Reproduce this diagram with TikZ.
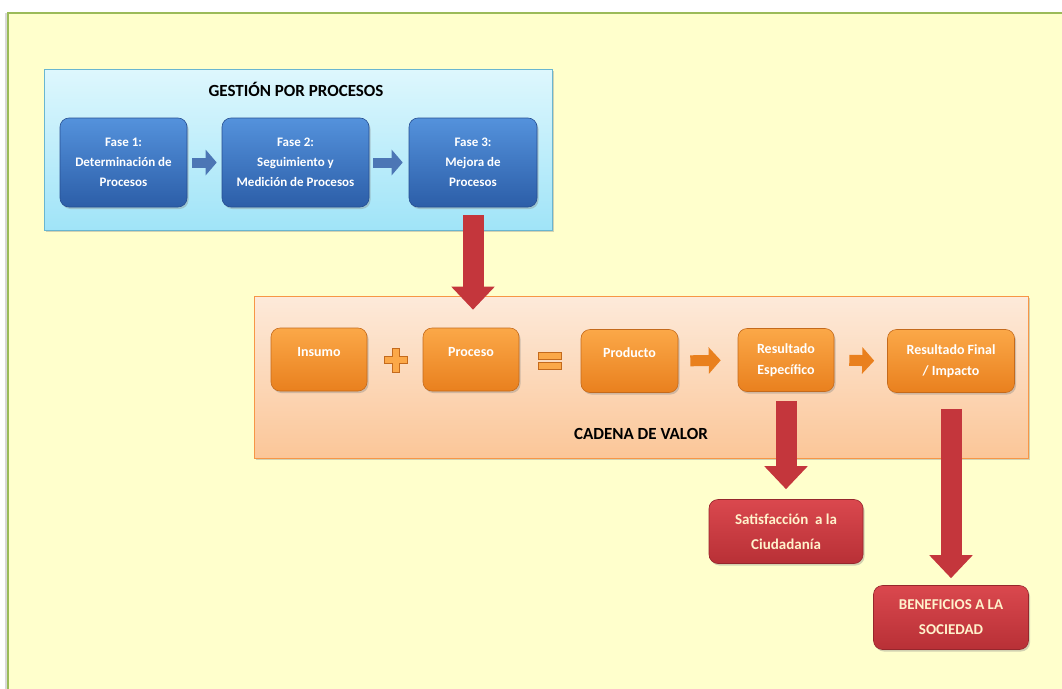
\documentclass[tikz,border=0pt]{standalone}
\usepackage{fontspec}
\setmainfont{Carlito}
\usepackage{tikz}
\usetikzlibrary{arrows.meta,shadows}

\definecolor{frameyellow}{RGB}{255,255,204}
\definecolor{framegreen}{RGB}{155,187,89}
\definecolor{panelbluetop}{RGB}{222,247,253}
\definecolor{panelbluebot}{RGB}{160,228,248}
\definecolor{panelblueline}{RGB}{105,182,208}
\definecolor{panelortop}{RGB}{253,234,218}
\definecolor{panelorbot}{RGB}{251,198,152}
\definecolor{panelorline}{RGB}{247,150,70}
\definecolor{bluetop}{RGB}{84,146,220}
\definecolor{bluebot}{RGB}{44,94,168}
\definecolor{blueline}{RGB}{38,78,145}
\definecolor{ortop}{RGB}{251,168,72}
\definecolor{orbot}{RGB}{233,128,30}
\definecolor{orline}{RGB}{196,106,28}
\definecolor{redtop}{RGB}{218,72,78}
\definecolor{redbot}{RGB}{184,48,54}
\definecolor{redline}{RGB}{150,38,44}
\definecolor{redarrow}{RGB}{196,54,60}
\definecolor{cream}{RGB}{255,242,204}

\begin{document}
\begin{tikzpicture}[x=1pt,y=-1pt,
    shade/.style={drop shadow={opacity=0.35,shadow xshift=1.5pt,shadow yshift=-2pt}},
    panel/.style={draw, line width=0.8pt, shade},
    box/.style={draw, line width=0.6pt, rounded corners=9pt, align=center,
        text=white, shade},
    bluebox/.style={box, top color=bluetop, bottom color=bluebot, draw=blueline,
        minimum height=89pt, font=\fontsize{13}{20}\selectfont\bfseries},
    orbox/.style={box, top color=ortop, bottom color=orbot, draw=orline,
        minimum height=63pt, font=\fontsize{14}{21}\selectfont\bfseries},
    redbox/.style={box, top color=redtop, bottom color=redbot, draw=redline,
        text=cream, minimum height=64pt, font=\fontsize{15}{25}\selectfont\bfseries},
    title/.style={font=\fontsize{17}{20}\selectfont\bfseries},
    bigarrow/.style={draw=redarrow, line width=21pt, -{Triangle[width=42pt,length=23pt]}},
    bluearrow/.style={draw=bluebot!85!white, line width=10pt, -{Triangle[width=25pt,length=11pt]}},
    orarrow/.style={draw=orbot, line width=11pt, -{Triangle[width=26pt,length=12pt]}},
    sign/.style={fill=ortop, draw=orline, line width=0.6pt}
]
    \clip (0,0) rectangle (1062,688);
    \fill[white] (0,0) rectangle (1062,688);
    \filldraw[fill=frameyellow, draw=framegreen, line width=2pt,
        drop shadow={opacity=0.3,shadow xshift=-3pt,shadow yshift=0pt}]
        (8,13) rectangle (1080,700);

    % panels
    \node[panel, top color=panelbluetop, bottom color=panelbluebot, draw=panelblueline,
        minimum width=508pt, minimum height=161pt] (gp) at (298,149.5) {};
    \node[title] (gtitle) at (296,89) {GESTIÓN POR PROCESOS};
    \node[panel, top color=panelortop, bottom color=panelorbot, draw=panelorline,
        minimum width=774pt, minimum height=162pt] (cp) at (641,377) {};
    \node[title] (ctitle) at (641,434) {CADENA DE VALOR};

    % fases
    \node[bluebox, minimum width=127pt] (f1) at (123.5,162.5) {Fase 1:\\Determinación de\\Procesos};
    \node[bluebox, minimum width=147pt] (f2) at (295.5,162.5) {Fase 2:\\Seguimiento y\\Medición de Procesos};
    \node[bluebox, minimum width=128pt] (f3) at (473,162.5) {Fase 3:\\Mejora de\\Procesos};

    % cadena de valor
    \node[orbox, minimum width=96pt, text depth=16pt] (ins) at (319,359.5) {Insumo};
    \node[orbox, minimum width=96pt, text depth=16pt] (pro) at (471,359.5) {Proceso};
    \node[orbox, minimum width=97pt, text depth=16pt] (prod) at (629.5,361) {Producto};
    \node[orbox, minimum width=96pt] (res) at (786,360) {Resultado\\Específico};
    \node[orbox, minimum width=127pt] (fin) at (951,361) {Resultado Final\\/ Impacto};

    % resultados
    \node[redbox, minimum width=154pt] (sat) at (786,531.5) {Satisfacción~ a la\\Ciudadanía};
    \node[redbox, minimum width=155pt] (ben) at (951,617.5) {BENEFICIOS A LA\\SOCIEDAD};

    % signos
    \filldraw[sign] (392,348) -- (399,348) -- (399,356.5) -- (407,356.5) -- (407,363.5)
        -- (399,363.5) -- (399,372) -- (392,372) -- (392,363.5) -- (384,363.5)
        -- (384,356.5) -- (392,356.5) -- cycle;
    \filldraw[sign] (538,352) rectangle (561,359);
    \filldraw[sign] (538,362) rectangle (561,369);

    \draw[bluearrow, shorten <=5pt, shorten >=5pt] (f1.east) -- (f2.west);
    \draw[bluearrow, shorten <=4pt, shorten >=6pt] (f2.east) -- (f3.west);
    \draw[orarrow, shorten <=12pt, shorten >=17pt] (prod.east) -- (res.west);
    \draw[orarrow, shorten <=15pt, shorten >=13pt] (res.east) -- (fin.west);

    \draw[bigarrow, shorten <=8pt, shorten >=18pt] (f3.south) -- (f3.south |- pro.north);
    \draw[bigarrow, shorten <=9pt, shorten >=10pt] (res.south) -- (sat.north);
    \draw[bigarrow, shorten <=16pt, shorten >=7pt] (fin.south) -- (ben.north);
\end{tikzpicture}
\end{document}
